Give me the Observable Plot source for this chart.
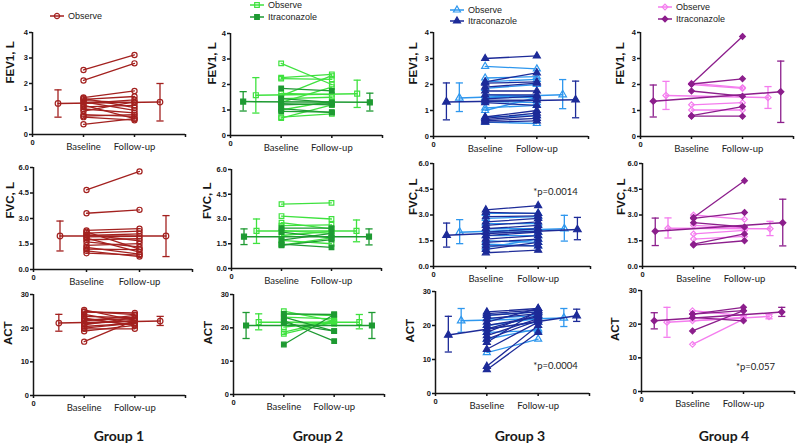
<!DOCTYPE html>
<html><head><meta charset="utf-8">
<script src="https://cdn.jsdelivr.net/npm/d3@7"></script>
<script src="https://cdn.jsdelivr.net/npm/@observablehq/plot@0.6"></script>
<style>
html,body{margin:0;padding:0;background:#fff;}
#chart{position:relative;width:800px;height:444px;overflow:hidden;font-family:"Liberation Sans",Arial,sans-serif;background:#fff;}
.legend{position:absolute;display:flex;align-items:center;height:12px;font-size:9px;color:#222;line-height:1;white-space:nowrap;}
.legend svg{display:block;margin-right:4px;overflow:visible;}
.group-label{position:absolute;font-family:Lato,sans-serif;font-weight:bold;font-size:14px;transform:translate(-50%,-50%);white-space:nowrap;color:#1a1a1a;}
</style></head><body><div id="chart"></div>
<script>
// ---------------- DATA ----------------
const categories = ["Baseline", "Follow-up"];
const groups = ["Group 1", "Group 2", "Group 3", "Group 4"];
const measures = ["FEV1, L", "FVC, L", "ACT"];
const arms = ["Observe", "Itraconazole"];
const yMax = [4, 6, 30];
const yTicks = [[0, 1, 2, 3, 4], [0, 1.5, 3, 4.5, 6], [0, 10, 20, 30]];
const pLabels = ["*p=0.0014", "*p=0.0004", "*p=0.057"];

// stats arrays: [mean, lower, upper] at Baseline, then [mean, lower, upper] at Follow-up
// Group 1 (Observe only)
const g1FevObsPre  = [2.53, 2.12, 1.45, 1.42, 1.38, 1.33, 1.28, 1.22, 1.15, 1.08, 1.00, 0.92, 0.78, 0.72, 0.68, 0.40];
const g1FevObsPost = [3.12, 2.79, 1.71, 1.05, 1.49, 1.25, 0.95, 1.36, 0.62, 1.14, 0.85, 1.28, 0.71, 0.78, 0.56, 0.62];
const g1FevObsStats = [1.22, 0.68, 1.75, 1.27, 0.53, 2.00];
const g1FvcObsPre  = [4.68, 3.31, 2.30, 2.22, 2.14, 2.05, 2.00, 1.92, 1.85, 1.75, 1.62, 1.42, 1.30, 1.20, 1.10, 0.96];
const g1FvcObsPost = [5.77, 3.51, 2.40, 1.20, 2.26, 1.68, 2.10, 1.95, 1.02, 1.81, 1.33, 1.52, 0.90, 1.17, 0.76, 0.85];
const g1FvcObsStats = [1.97, 1.09, 2.85, 1.97, 0.76, 3.17];
const g1ActObsPre  = [25.4, 24.8, 24.1, 23.5, 22.8, 22.1, 21.3, 20.5, 19.8, 19.1, 25.0, 16.0, 22.5, 21.0, 20.0, 23.0];
const g1ActObsPost = [22.3, 24.5, 21.5, 23.1, 20.8, 23.8, 22.3, 21.5, 19.8, 20.8, 24.0, 22.3, 22.8, 23.1, 21.5, 20.8];
const g1ActObsStats = [21.5, 19.1, 24.1, 22.1, 20.8, 23.5];
// Group 2
const g2FevObsPre  = [2.83, 2.27, 2.23, 1.65, 1.55, 1.45, 1.30, 1.00, 0.72, 0.68];
const g2FevObsPost = [2.00, 2.40, 2.20, 1.60, 2.35, 1.50, 1.90, 1.35, 0.85, 1.20];
const g2FevObsStats = [1.58, 0.88, 2.27, 1.64, 1.10, 2.17];
const g2FevItrPre  = [1.85, 1.45, 1.25, 1.20, 1.05, 0.95];
const g2FevItrPost = [1.75, 1.30, 1.20, 1.25, 0.90, 0.92];
const g2FevItrStats = [1.33, 0.96, 1.72, 1.30, 0.96, 1.66];
const g2FvcObsPre  = [3.90, 3.18, 2.78, 2.60, 2.30, 2.00, 1.70, 1.42];
const g2FvcObsPost = [3.98, 3.00, 2.40, 2.65, 2.13, 2.25, 1.50, 1.85];
const g2FvcObsStats = [2.28, 1.52, 3.00, 2.28, 1.62, 2.94];
const g2FvcItrPre  = [2.45, 2.20, 1.72, 1.48, 1.40];
const g2FvcItrPost = [2.45, 1.85, 2.13, 1.28, 1.75];
const g2FvcItrStats = [1.93, 1.45, 2.40, 1.93, 1.43, 2.40];
const g2ActObsPre  = [25.0, 24.2, 23.2, 21.7, 20.2, 18.7, 18.2];
const g2ActObsPost = [22.0, 23.7, 22.7, 21.2, 21.7, 22.2, 21.7];
const g2ActObsStats = [21.7, 19.4, 24.2, 21.7, 19.7, 24.0];
const g2ActItrPre  = [24.2, 23.2, 22.2, 21.4, 15.0];
const g2ActItrPost = [24.0, 19.0, 16.0, 19.0, 24.0];
const g2ActItrStats = [20.7, 16.8, 24.6, 20.7, 16.8, 24.6];
// Group 3
const g3FevObsPre  = [2.70, 2.25, 2.10, 1.85, 1.60, 1.50, 1.35, 1.10, 1.00, 0.75, 0.55];
const g3FevObsPost = [2.60, 2.30, 2.20, 2.00, 1.55, 1.50, 1.30, 1.20, 1.50, 0.80, 0.50];
const g3FevObsStats = [1.48, 0.96, 2.06, 1.61, 1.07, 2.19];
const g3FevItrPre  = [3.00, 2.10, 2.05, 1.90, 1.75, 1.60, 1.45, 1.40, 1.30, 0.75, 0.70, 0.65, 0.60, 0.55];
const g3FevItrPost = [3.10, 2.45, 2.10, 2.05, 1.75, 1.60, 1.55, 1.40, 1.20, 1.00, 0.90, 0.80, 0.70, 0.60];
const g3FevItrStats = [1.33, 0.64, 2.06, 1.41, 0.72, 2.13];
const g3FvcObsPre  = [3.10, 2.80, 2.50, 2.20, 2.00, 1.80, 1.50, 1.30, 1.10];
const g3FvcObsPost = [3.10, 2.90, 2.50, 2.20, 2.00, 1.80, 1.40, 1.20, 1.60];
const g3FvcObsStats = [2.00, 1.33, 2.73, 2.20, 1.48, 2.98];
const g3FvcItrPre  = [3.30, 3.15, 2.90, 2.60, 2.40, 2.20, 2.00, 1.80, 1.60, 1.40, 1.20, 1.00, 0.80];
const g3FvcItrPost = [3.55, 3.10, 2.95, 2.80, 2.60, 2.40, 2.20, 2.00, 1.80, 1.60, 1.20, 1.40, 0.95];
const g3FvcItrStats = [1.82, 1.13, 2.53, 2.15, 1.56, 2.86];
const g3ActObsPre  = [23.0, 22.0, 20.0, 19.0, 18.0, 16.0, 12.0];
const g3ActObsPost = [24.0, 23.0, 22.0, 21.0, 18.5, 19.0, 16.0];
const g3ActObsStats = [21.4, 18.0, 25.0, 22.2, 19.7, 25.0];
const g3ActItrPre  = [24.0, 23.5, 23.0, 22.0, 21.0, 20.0, 19.0, 18.0, 17.0, 16.0, 15.0, 13.0, 8.0, 7.0];
const g3ActItrPost = [25.0, 24.5, 24.0, 23.5, 25.0, 22.5, 23.0, 24.0, 22.0, 21.5, 24.5, 21.0, 20.0, 18.0];
const g3ActItrStats = [17.2, 12.2, 22.7, 22.9, 21.2, 24.8];
// Group 4
const g4FevObsPre  = [2.00, 2.05, 1.22, 1.02];
const g4FevObsPost = [1.85, 1.88, 1.30, 1.02];
const g4FevObsStats = [1.58, 1.04, 2.12, 1.50, 1.08, 1.92];
const g4FevItrPre  = [2.02, 2.02, 1.75, 0.80, 0.78];
const g4FevItrPost = [3.85, 2.22, 1.55, 1.15, 0.78];
const g4FevItrStats = [1.36, 0.75, 1.98, 1.72, 0.54, 2.90];
const g4FvcObsPre  = [3.00, 2.40, 1.90, 1.60];
const g4FvcObsPost = [2.75, 2.25, 2.10, 1.75];
const g4FvcObsStats = [2.23, 1.66, 2.83, 2.20, 1.80, 2.63];
const g4FvcItrPre  = [2.85, 2.80, 2.55, 1.30, 1.25];
const g4FvcItrPost = [5.00, 3.15, 2.30, 1.90, 1.50];
const g4FvcItrStats = [2.05, 1.22, 2.82, 2.55, 1.20, 3.92];
const g4ActObsPre  = [24.0, 21.0, 14.0];
const g4ActObsPost = [22.5, 22.0, 21.5];
const g4ActObsStats = [20.6, 16.1, 25.0, 22.3, 21.6, 22.9];
const g4ActItrPre  = [23.0, 23.0, 22.0, 18.0];
const g4ActItrPost = [25.0, 24.0, 21.0, 24.0];
const g4ActItrStats = [21.0, 18.6, 23.4, 23.6, 22.3, 25.0];

// ---------------- TABLE built from the arrays ----------------
const S = (arm, pre, post, stats) => ({arm, pre, post, stats});
const panels = [
  {g: 0, m: 0, series: [S("Observe", g1FevObsPre, g1FevObsPost, g1FevObsStats)]},
  {g: 0, m: 1, series: [S("Observe", g1FvcObsPre, g1FvcObsPost, g1FvcObsStats)]},
  {g: 0, m: 2, series: [S("Observe", g1ActObsPre, g1ActObsPost, g1ActObsStats)]},
  {g: 1, m: 0, series: [S("Observe", g2FevObsPre, g2FevObsPost, g2FevObsStats), S("Itraconazole", g2FevItrPre, g2FevItrPost, g2FevItrStats)]},
  {g: 1, m: 1, series: [S("Observe", g2FvcObsPre, g2FvcObsPost, g2FvcObsStats), S("Itraconazole", g2FvcItrPre, g2FvcItrPost, g2FvcItrStats)]},
  {g: 1, m: 2, series: [S("Observe", g2ActObsPre, g2ActObsPost, g2ActObsStats), S("Itraconazole", g2ActItrPre, g2ActItrPost, g2ActItrStats)]},
  {g: 2, m: 0, series: [S("Observe", g3FevObsPre, g3FevObsPost, g3FevObsStats), S("Itraconazole", g3FevItrPre, g3FevItrPost, g3FevItrStats)]},
  {g: 2, m: 1, series: [S("Observe", g3FvcObsPre, g3FvcObsPost, g3FvcObsStats), S("Itraconazole", g3FvcItrPre, g3FvcItrPost, g3FvcItrStats)], p: 0},
  {g: 2, m: 2, series: [S("Observe", g3ActObsPre, g3ActObsPost, g3ActObsStats), S("Itraconazole", g3ActItrPre, g3ActItrPost, g3ActItrStats)], p: 1},
  {g: 3, m: 0, series: [S("Observe", g4FevObsPre, g4FevObsPost, g4FevObsStats), S("Itraconazole", g4FevItrPre, g4FevItrPost, g4FevItrStats)]},
  {g: 3, m: 1, series: [S("Observe", g4FvcObsPre, g4FvcObsPost, g4FvcObsStats), S("Itraconazole", g4FvcItrPre, g4FvcItrPost, g4FvcItrStats)]},
  {g: 3, m: 2, series: [S("Observe", g4ActObsPre, g4ActObsPost, g4ActObsStats), S("Itraconazole", g4ActItrPre, g4ActItrPost, g4ActItrStats)], p: 2}
];

// ---------------- STYLE / LAYOUT ----------------
const styles = [
  {Observe: {color: "#a3211f", symbol: "circle", open: true}},
  {Observe: {color: "#3fe23f", symbol: "square", open: true}, Itraconazole: {color: "#1e9a32", symbol: "square", open: false}},
  {Observe: {color: "#2e97ee", symbol: "triangle", open: true}, Itraconazole: {color: "#1d2b98", symbol: "triangle", open: false}},
  {Observe: {color: "#f47cee", symbol: "diamond2", open: true}, Itraconazole: {color: "#8c1e8c", symbol: "diamond2", open: false}}
];
const summaryX = {Observe: [0.5, 2.5], Itraconazole: [0.25, 2.75]};
// [x of 0, x of 3, y of max, y of 0] in page pixels, per row (measure) then per group
const layout = [
  [[32, 185, 32, 134], [230, 382, 33, 135], [433, 588, 32, 136], [640, 793, 32, 136]],
  [[33, 192, 167, 269], [231, 381, 169, 268], [433, 590, 163, 266], [642, 795, 163, 266]],
  [[33, 185, 294, 395], [233, 384, 294, 394], [435, 589, 291, 393], [641, 794, 290, 391]]
];
const yLabelDx = [[-22, -18, -20, -20], [-23, -24, -20, -21], [-25, -25, -25, -26]];
const pOffset = [[-35, 25], [-34, 71], [-39, 73]];
const legendPos = [[[50, 16]], [[250, 5], [250, 17]], [[450, 10], [450, 21]], [[658, 7], [658, 19]]];
const groupLabelPos = [[119, 435], [318, 435], [520, 435], [724, 435]];

const capSymbol = {draw(ctx) { ctx.moveTo(-3.6, 0); ctx.lineTo(3.6, 0); }};
const chart = document.getElementById("chart");
const INK = "#151515";

function makePanel(p) {
  const [x0, x3, yT, yB] = layout[p.m][p.g];
  const ML = 38, MR = 8, MT = 8, MB = 28;
  const marks = [
    Plot.ruleY([0], {stroke: INK, strokeWidth: 1.5}),
    Plot.ruleX([0], {stroke: INK, strokeWidth: 1.5}),
    Plot.axisY({ticks: yTicks[p.m], tickSize: 3, tickPadding: 1.5, stroke: INK, strokeWidth: 1.5, fill: INK,
      fontSize: 7.5, fontWeight: "bold", tickFormat: p.m === 1 ? d3.format(".1f") : d3.format("d"), label: null}),
    Plot.axisX({ticks: [0, 1, 2, 3], tickSize: 3, stroke: INK, strokeWidth: 1.5, tickFormat: () => "", label: null}),
    Plot.axisX({ticks: [0], tickSize: 0, tickPadding: 5, fontSize: 7.5, fontWeight: "bold", fill: INK, tickFormat: d3.format("d"), label: null}),
    Plot.axisX({ticks: [1, 2], tickSize: 0, tickPadding: 9, fontSize: 9.5, fontFamily: "Lato", fill: "#222", tickFormat: i => categories[i - 1], label: null}),
    Plot.text([measures[p.m]], {text: d => d, frameAnchor: "left", dx: yLabelDx[p.m][p.g], rotate: -90,
      fontWeight: "bold", fontSize: 11.5, fill: INK})
  ];
  for (const s of p.series) {
    const st = styles[p.g][s.arm];
    const pts = [];
    s.pre.forEach((v, i) => {
      pts.push({id: i, x: 1, y: v});
      pts.push({id: i, x: 2, y: s.post[i]});
    });
    const summ = [0, 1].map(k => ({x: summaryX[s.arm][k], y: s.stats[k * 3], lo: s.stats[k * 3 + 1], hi: s.stats[k * 3 + 2]}));
    marks.push(
      Plot.line(pts, {x: "x", y: "y", z: "id", stroke: st.color, strokeWidth: 1.3}),
      Plot.dot(pts, {x: "x", y: "y", symbol: st.symbol, r: 2.6, stroke: st.color, strokeWidth: 1.2, fill: st.open ? "none" : st.color}),
      Plot.line(summ, {x: "x", y: "y", stroke: st.color, strokeWidth: 1.5}),
      Plot.ruleX(summ, {x: "x", y1: "lo", y2: "hi", stroke: st.color, strokeWidth: 1.3}),
      Plot.dot(summ, {x: "x", y: "lo", symbol: capSymbol, stroke: st.color, strokeWidth: 1.3, fill: "none"}),
      Plot.dot(summ, {x: "x", y: "hi", symbol: capSymbol, stroke: st.color, strokeWidth: 1.3, fill: "none"}),
      Plot.dot(summ, {x: "x", y: "y", symbol: st.symbol, r: 2.8, stroke: st.color, strokeWidth: 1.2, fill: st.open ? "none" : st.color})
    );
  }
  if (p.p !== undefined) {
    marks.push(Plot.text([pLabels[p.p]], {text: d => d, frameAnchor: "top-right", dx: pOffset[p.p][0], dy: pOffset[p.p][1],
      textAnchor: "middle", fontFamily: "Lato", fontSize: 9.5, fill: "#222"}));
  }
  const svg = Plot.plot({
    width: ML + (x3 - x0) + MR,
    height: MT + (yB - yT) + MB,
    marginLeft: ML, marginRight: MR, marginTop: MT, marginBottom: MB,
    x: {domain: [0, 3], axis: null},
    y: {domain: [0, yMax[p.m]], axis: null},
    style: {fontFamily: "Liberation Sans, Arial, sans-serif", background: "transparent", overflow: "visible"},
    marks
  });
  svg.style.position = "absolute";
  svg.style.left = (x0 - ML) + "px";
  svg.style.top = (yT - MT) + "px";
  svg.style.maxWidth = "none";
  chart.appendChild(svg);
}
panels.forEach(makePanel);

// legends
groups.forEach((g, gi) => {
  const armList = gi === 0 ? ["Observe"] : arms;
  armList.forEach((arm, ai) => {
    const st = styles[gi][arm];
    const [lx, ly] = legendPos[gi][ai];
    const div = document.createElement("div");
    div.className = "legend";
    div.style.left = lx + "px";
    div.style.top = (ly - 6) + "px";
    const sym = {circle: d3.symbolCircle, square: d3.symbolSquare, triangle: d3.symbolTriangle, diamond2: d3.symbolDiamond2}[st.symbol];
    const path = d3.symbol(sym, Math.PI * 2.6 * 2.6)();
    div.innerHTML = `<svg width="14" height="12"><line x1="0" x2="14" y1="6" y2="6" stroke="${st.color}" stroke-width="1.5"/>` +
      `<path d="${path}" transform="translate(7,6)" stroke="${st.color}" stroke-width="1.2" fill="${st.open ? "none" : st.color}"/></svg>` +
      `<span>${arm}</span>`;
    chart.appendChild(div);
  });
  const gl = document.createElement("div");
  gl.className = "group-label";
  gl.textContent = g;
  gl.style.left = groupLabelPos[gi][0] + "px";
  gl.style.top = groupLabelPos[gi][1] + "px";
  chart.appendChild(gl);
});
</script></body></html>
